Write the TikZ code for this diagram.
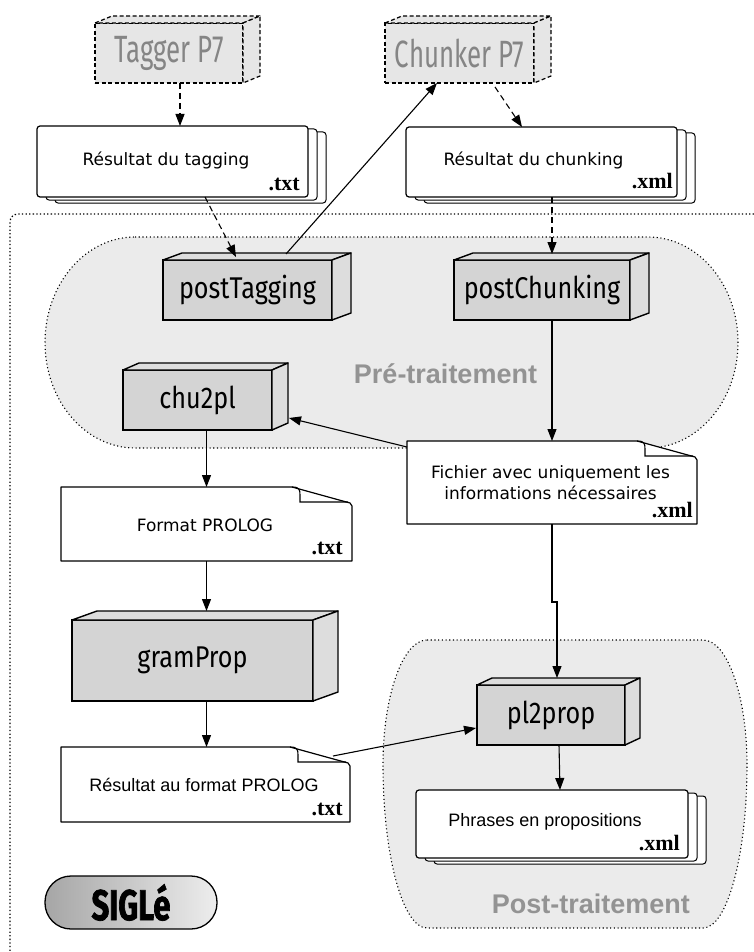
\documentclass[tikz,border=0pt]{standalone}
\usepackage{fontspec}
\setmainfont{DejaVu Sans}
\newfontfamily\helv{Liberation Sans}
\newfontfamily\extfont{Liberation Serif}
\newfontfamily\cond[FakeStretch=0.84]{Fira Sans}
\newfontfamily\condx[FakeStretch=0.68]{Fira Sans}
\newfontfamily\condb[FakeStretch=0.72,FakeBold=1.6]{Fira Sans}
\usetikzlibrary{arrows.meta,calc,shadows}

\definecolor{blobfill}{HTML}{EBEBEB}
\definecolor{boxfront}{HTML}{D4D4D4}
\definecolor{boxface}{HTML}{DDDDDD}
\definecolor{extfill}{HTML}{E6E6E6}
\definecolor{exttext}{HTML}{858585}
\definecolor{labgray}{HTML}{939393}

\tikzset{
 proc/.style={draw, line width=1.4pt, fill=boxfront, outer sep=0pt, inner sep=0pt, font=\cond\fontsize{30}{30}\selectfont},
 procface/.style={draw, line width=1.4pt, fill=boxface, line join=round},
 extproc/.style={draw, dash pattern=on 4pt off 2.5pt, line width=1.2pt, fill=extfill, outer sep=0pt, inner sep=0pt, text=exttext, font=\condx\fontsize{38}{38}\selectfont},
 extface/.style={draw, dash pattern=on 4pt off 2.5pt, line width=1.2pt, fill=extfill, line join=round},
 sheet/.style={draw, line width=1.2pt, fill=white, rounded corners=3pt, outer sep=0pt, inner sep=0pt,
   double copy shadow={shadow xshift=9pt, shadow yshift=-3pt, draw=black, fill=white, line width=1pt}},
 notebox/.style={outer sep=0pt, inner sep=0pt},
 noteline/.style={draw, line width=1.2pt, fill=white, line join=round},
 doctext/.style={font=\fontsize{17}{21}\selectfont, align=center, inner sep=0pt},
 helvtext/.style={font=\helv\fontsize{18}{22}\selectfont, inner sep=0pt},
 ext/.style={font=\extfont\bfseries\fontsize{22}{22}\selectfont, anchor=base east, inner sep=0pt},
 zone/.style={draw, fill=blobfill, line width=1.1pt, dash pattern=on 1.1pt off 2.6pt},
 frameline/.style={draw, line width=1.3pt, dash pattern=on 1.3pt off 2.3pt, rounded corners=8pt},
 zonelabel/.style={font=\helv\bfseries\fontsize{27}{27}\selectfont, text=labgray, inner sep=0pt},
 arr/.style={-{Triangle[length=12pt,width=9pt]}, line width=1.1pt},
 darr/.style={arr, dash pattern=on 6pt off 4pt},
 sigle/.style={draw, line width=1.3pt, rounded corners=26pt, left color=black!35, right color=black!7,
   minimum width=172pt, minimum height=53pt, inner sep=0pt, font=\condb\bfseries\fontsize{43}{43}\selectfont},
}

% depth faces of a 3D box: name, dx, dy (pt, canvas up)
\newcommand\boxdepth[4][procface]{%
 \draw[#1] (#2.north west) -- ++(#3pt,#4pt) -- ([shift={(#3pt,#4pt)}]#2.north east) -- (#2.north east) -- cycle;
 \draw[#1] (#2.north east) -- ++(#3pt,#4pt) -- ([shift={(#3pt,#4pt)}]#2.south east) -- (#2.south east) -- cycle;
}
% dog-eared note outline
\newcommand\noteshape[1]{%
 \draw[noteline] (#1.north west) -- ([xshift=-60pt]#1.north east) -- ([xshift=-2pt,yshift=-16pt]#1.north east)
   -- ([yshift=-19pt]#1.north east) -- (#1.south east) -- (#1.south west) -- cycle;
 \draw[line width=1.1pt] ([xshift=-60pt]#1.north east) .. controls ([xshift=-53pt]#1.north east) and ([xshift=-52pt,yshift=-2pt]#1.north east) .. ([xshift=-52pt,yshift=-8pt]#1.north east)
   -- ([xshift=-52pt,yshift=-15pt]#1.north east) -- ([xshift=-4pt,yshift=-15pt]#1.north east);
}

\begin{document}
\begin{tikzpicture}[x=1pt,y=-1pt]
\useasboundingbox (0,0) rectangle (754,952);

% zones
\path[zone] (135,237) -- (648,237) .. controls (697.7,237) and (738,284.2) .. (738,342.5)
  .. controls (738,400.8) and (697.7,448) .. (648,448) -- (135,448)
  .. controls (85.3,448) and (45,400.8) .. (45,342.5)
  .. controls (45,284.2) and (85.3,237) .. (135,237) -- cycle;
\path[zone] (427,640) -- (703,640) .. controls (727.3,640) and (747,696) .. (747,765)
  .. controls (747,855) and (727.3,928) .. (703,928) -- (427,928)
  .. controls (402.7,928) and (383,855) .. (383,765)
  .. controls (383,696) and (402.7,640) .. (427,640) -- cycle;
\path[frameline] (754,214) -- (10,214) -- (10,952);

\node[zonelabel, anchor=base] (prelab) at (445.5,383) {Pré-traitement};
\node[zonelabel, anchor=base east] (postlab) at (690,913) {Post-traitement};

% external tools
\node[extproc, minimum width=148pt, minimum height=60pt] (tagger) at (169,53) {Tagger P7};
\boxdepth[extface]{tagger}{17}{7}
\node[extproc, minimum width=149pt, minimum height=60pt] (chunker) at (459.5,53) {Chunker P7};
\boxdepth[extface]{chunker}{17}{7}

% document stacks
\node[sheet, minimum width=271pt, minimum height=71pt] (restag) at (172.5,161.5) {};
\node[doctext] (restagt) at (166,160) {Résultat du tagging};
\node[ext] (restagx) at ($(restag.south east)+(-8,-7)$) {.txt};

\node[sheet, minimum width=271pt, minimum height=70pt] (reschunk) at (541.5,162) {};
\node[doctext] (reschunkt) at (533.5,160) {Résultat du chunking};
\node[ext] (reschunkx) at ($(reschunk.south east)+(-4,-8)$) {.xml};

\node[sheet, minimum width=272pt, minimum height=68pt] (phrases) at (552,824) {};
\node[helvtext] (phrasest) at (545,822) {Phrases en propositions};
\node[ext] (phrasesx) at ($(phrases.south east)+(-8,-8)$) {.xml};

% process boxes
\node[proc, minimum width=169pt, minimum height=60pt] (posttag) at (247.5,290) {postTagging};
\boxdepth{posttag}{19}{7}
\node[proc, minimum width=176pt, minimum height=60pt] (postchunk) at (542,290) {postChunking};
\boxdepth{postchunk}{19}{7}
\node[proc, minimum width=149pt, minimum height=60pt] (chu) at (197.5,400) {chu2pl};
\boxdepth{chu}{16}{7}
\node[proc, minimum width=241pt, minimum height=81pt] (gram) at (192.5,660.5) {gramProp};
\boxdepth{gram}{25}{9}
\node[proc, minimum width=148pt, minimum height=60pt] (pl) at (551,715) {pl2prop};
\boxdepth{pl}{15}{7}

% notes
\node[notebox, minimum width=290pt, minimum height=83pt] (fichier) at (552,482.5) {};
\noteshape{fichier}
\node[doctext] (fichiert) at (550.5,482.5) {Fichier avec uniquement les\\informations nécessaires};
\node[ext] (fichierx) at ($(fichier.south east)+(-4,-7)$) {.xml};

\node[notebox, minimum width=291pt, minimum height=74pt] (format) at (206.5,524) {};
\noteshape{format}
\node[doctext] (formatt) at (205,525) {Format PROLOG};
\node[ext] (formatx) at ($(format.south east)+(-9,-7)$) {.txt};

\node[notebox, minimum width=289pt, minimum height=75pt] (resprolog) at (205.5,784.5) {};
\noteshape{resprolog}
\node[helvtext] (resprologt) at (204,785) {Résultat au format PROLOG};
\node[ext] (resprologx) at ($(resprolog.south east)+(-7,-7)$) {.txt};

% logo
\node[sigle] (sigle) at (131,902.5) {SIGLé};

% connectors
\draw[darr] ([xshift=11pt]tagger.south) -- ([xshift=7.5pt]restag.north);
\draw[darr] ([xshift=35.5pt,yshift=-4pt]chunker.south) -- ([xshift=-19.5pt]reschunk.north);
\draw[darr] ([xshift=32.5pt]restag.south) -- ([xshift=-11.5pt,yshift=3pt]posttag.north);
\draw[arr] ([xshift=38.5pt,yshift=6pt]posttag.north) -- ([xshift=-22.5pt]chunker.south);
\draw[darr] ([xshift=10.5pt]reschunk.south) -- ([xshift=10pt,yshift=6pt]postchunk.north);
\draw[arr] ([xshift=10pt]postchunk.south) -- (fichier.north);
\draw[arr] ([yshift=-6pt]fichier.north west) -- ([xshift=17pt,yshift=-18pt]chu.east);
\draw[arr] (chu.south -| format.north) -- (format.north);
\draw[arr] (format.south) -- ($(gram.north -| format.south)+(0,-9)$);
\draw[arr] (gram.south -| format.south) -- (resprolog.north -| format.south);
\draw[arr] ($(resprolog.north east)+(-17,9)$) -- ($(pl.west)+(-1,13)$);
\draw[arr] (fichier.south) -- ++(0,78) -| ($(pl.north)+(6,-7)$);
\draw[arr] ([xshift=8pt]pl.south) -- ([xshift=8pt]phrases.north);
\end{tikzpicture}
\end{document}
